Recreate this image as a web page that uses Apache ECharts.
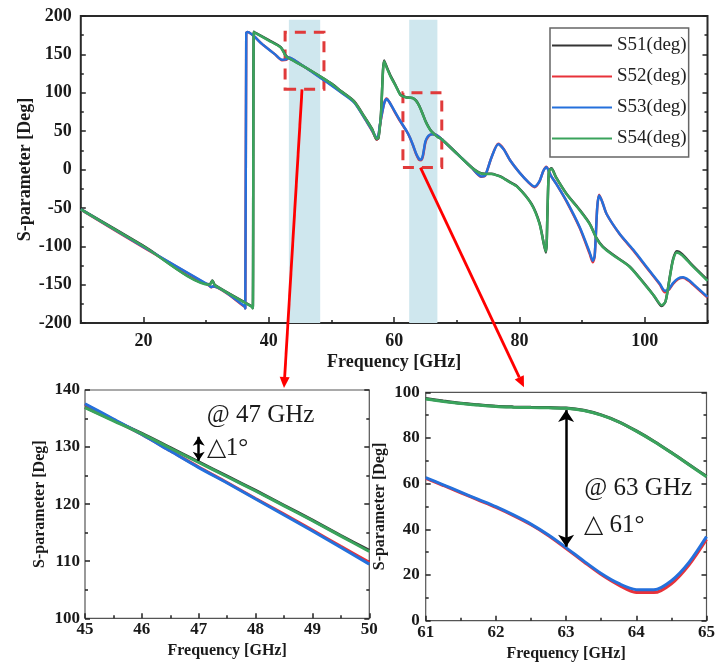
<!DOCTYPE html>
<html><head><meta charset="utf-8">
<script src="https://cdn.jsdelivr.net/npm/echarts@6/dist/echarts.min.js"></script>
<style>html,body{margin:0;padding:0;background:#fff}#c{width:718px;height:665px}</style>
</head><body><div id="c"></div>
<script>
// ---------- data ----------
const seriesNames = ['S51(deg)', 'S52(deg)', 'S53(deg)', 'S54(deg)'];

// main chart, S53 / S52 share a frequency list
const s53Freq = [10,20,30.5,30.8,31.1, 36.1,36.25,36.4,36.6,39, 41,42.1,42.8,43.2,45, 47,48.5,50,51.5,53.6,
  55.2,56.5,57.3,57.8,58.4, 58.8,59.3,60,61,62, 62.5,63,63.5,64,64.3, 64.6,65,65.5,66.1,66.7,
  67.5,70.1,72.3,73.9,74.5, 75.5,76.6,77.5,78.5,80, 81.5,82.4,83.2,83.8,84.3, 85,85.9,87.5,89.6,91.2,
  91.7,92.0,92.4,92.7,93.2, 93.9,96,98.1,100.3,102.4, 103.2,103.8,104.5,105.3,106.1, 107,107.7,110];
const s53Deg = [-52,-101,-151,-153,-152, -178,-181,178,179,163, 150,143,143.5,146,137.5, 126.5,118,109.5,100.6,87.5,
  68,50.6,40,62,86, 92,87,77,63,50, 42,32,21,13.5,13, 19,37,44,46,45,
  40,20,3,-9,-8, 15,33,26,12,-4, -17,-22,-15,-2,3, -8,-19,-41,-75,-108,
  -119,-112,-50,-34,-42, -58,-84,-104,-127,-149, -158,-156,-148,-142,-140.5, -144,-149,-166];
const s52Deg = [-52.5,-101.5,-151.5,-153.5,-152.5, -178.5,-181,178,179,163, 150,142.5,143,145.5,137.4, 126.6,118.3,110,101,88,
  68,50,39,61,86, 92.5,87,76.5,62.3,49.6, 41.8,31.6,20.2,12.4,12, 17.5,35.6,43.5,46,45,
  40,20,3,-9.5,-8.5, 15,33.5,26.5,12,-4, -17.5,-23,-15.5,-2,3.5, -8,-19,-41.5,-76,-110,
  -121,-113,-50,-33,-42, -58,-84.5,-105,-128,-150, -160,-157,-149,-143,-141, -145,-150,-167];

// main chart, S54 / S51 share a frequency list
const s54Freq = [10,20,30.5,30.7,31.0, 31.4,37.3,37.45,37.6,37.8, 40,41.9,42.7,43.2,45, 47,48.5,50,51.5,53.6,
  55.2,56.5,57.2,57.5,57.9, 58.4,58.9,59.5,60.3,61, 61.5,62,62.5,63,63.5, 64,64.5,65,65.5,66,
  67,67.5,70.1,72.3,73.5, 74.5,75.5,76.5,77.1,78.5, 79.7,81.9,83.2,84.2,84.45, 84.7,85.1,85.8,87.5,89.6,
  91.2,92.3,93.3,95,97.6, 100.3,101.5,102.7,103.3,104, 104.5,105.1,106,107.5,110];
const s54Deg = [-52,-100,-150,-149,-145, -151,-179,-181,179,178, 168,159,148,145,136.9, 127.3,119.7,111.7,102,88.5,
  69,52,40,42,72, 141,131,120,108,97, 95,93.8,93.5,93,89.6, 82.8,73.3,63,55,49,
  42,40,20,3,-4, -6,-6,-8,-10,-17, -23,-45,-71,-107,-60, -2,1,-10,-32,-53,
  -71,-90,-101,-112,-127, -153,-165,-177,-172,-140, -118,-108,-112,-125,-145];
const s51Deg = [-51.5,-99.5,-149.5,-148.5,-144.5, -150.5,-178.5,-180.5,179.5,178.5, 168.5,159.5,148.5,145.5,137, 127.4,119.8,111.9,102.3,89,
  69.5,52.5,39,41,73, 142,132,121,108.5,97.3, 95.2,93.9,93.6,93.1,89.7, 83,73.5,63.2,55.3,49.3,
  42.3,40.3,20.3,3.3,-3.7, -5.7,-5.7,-7.7,-9.5,-16.5, -22.5,-44.5,-70,-108,-60, -1.5,1.5,-9.5,-31.5,-52.5,
  -70.5,-89.5,-100.5,-111.5,-126.5, -152.5,-165,-178,-172,-139, -117,-106.5,-110.5,-124,-144];

// zoom inset @47 GHz
const z47Freq = [45,45.5,46,46.5,47,47.5,48,48.5,49,49.5,50];
const z47S51 = [137.0,134.7,132.4,129.9,127.4,124.9,122.4,119.8,117.2,114.5,111.9];
const z47S52 = [137.5,134.8,132.2,129.35,126.5,123.8,121.0,118.25,115.45,112.6,109.8];
const z47S53 = [137.6,134.9,132.2,129.3,126.4,123.7,120.9,118.1,115.3,112.4,109.5];
const z47S54 = [136.9,134.6,132.3,129.8,127.3,124.8,122.3,119.7,117.1,114.4,111.7];

// zoom inset @63 GHz
const z63Freq = [61,61.25,61.5,61.75,62,62.25,62.5,62.75,63,63.25,63.5,63.75,64,64.25,64.5,64.75,65];
const z63S51 = [97.3,96.2,95.2,94.5,93.9,93.6,93.4,93.3,93.1,92.1,90.1,87.1,83.1,78.6,73.6,68.4,63.2];
const z63S52 = [62.3,59.2,56.0,52.8,49.6,46.0,42.0,37.2,31.6,25.8,20.2,15.6,12.4,12.3,16.2,24.4,35.6];
const z63S53 = [62.6,59.5,56.3,53.1,49.9,46.3,42.3,37.5,32.0,26.2,20.7,16.3,13.6,13.5,17.5,25.5,36.8];
const z63S54 = [97.1,96.0,95.1,94.4,93.8,93.5,93.3,93.2,93.0,92.0,90.0,87.0,83.0,78.5,73.5,68.3,63.0];

const mainXLabels = [20, 40, 60, 80, 100];
const bands = [[43.2, 48.2], [62.4, 66.9]];          // highlighted frequency bands (GHz)
const zoomBoxes = [[42.6, 48.8, 104.5, 178.8], [61.4, 67.6, 2.5, 100]]; // [f0,f1,deg0,deg1]
const deltaMarks = [[47, 131.8, 127.6], [63, 92.2, 32.4]];

// ---------- styling ----------
const colors = ['#353535', '#e8323a', '#2470dc', '#3aa35c'];
const SERIF = '"Liberation Serif", "Times New Roman", serif';
const tickLS = {color: '#222', width: 1.5};
const lbl = (size, margin) => ({fontFamily: SERIF, fontWeight: 'bold', color: '#1a1a1a', fontSize: size, margin: margin});
const nameTS = size => ({fontFamily: SERIF, fontWeight: 'bold', color: '#1a1a1a', fontSize: size});
const zip = (a, b) => a.map((v, i) => [v, b[i]]);
const noLine = {show: false, onZero: false};

function yPair(grid, min, max, interval, name, nameGap, lsize, lmargin, nsize) {
  const base = {gridIndex: grid, type: 'value', min, max, interval, axisLine: noLine, splitLine: {show: false},
    axisTick: {inside: true, length: 5, lineStyle: tickLS},
    minorTick: {show: true, splitNumber: 2, length: 3, lineStyle: tickLS}};
  return [
    Object.assign({}, base, {position: 'left', axisLabel: lbl(lsize, lmargin), name, nameLocation: 'middle', nameGap,
      nameMoveOverlap: false, nameTextStyle: nameTS(nsize)}),
    Object.assign({}, base, {position: 'right', axisLabel: {show: false}})
  ];
}
function xInset(grid, min, max, nameGap) {
  return {gridIndex: grid, type: 'value', min, max, interval: 1, position: 'bottom', axisLine: noLine, splitLine: {show: false},
    axisTick: {inside: true, length: 5, lineStyle: tickLS},
    minorTick: {show: true, splitNumber: 2, length: 3, lineStyle: tickLS},
    axisLabel: lbl(17, 3), name: 'Frequency [GHz]', nameLocation: 'middle', nameGap, nameMoveOverlap: false, nameTextStyle: nameTS(16)};
}

const series = [];
const mainData = [zip(s54Freq, s51Deg), zip(s53Freq, s52Deg), zip(s53Freq, s53Deg), zip(s54Freq, s54Deg)];
const z47Data = [z47S51, z47S52, z47S53, z47S54].map(d => zip(z47Freq, d));
const z63Data = [z63S51, z63S52, z63S53, z63S54].map(d => zip(z63Freq, d));
mainData.forEach((d, i) => series.push({type: 'line', name: seriesNames[i], xAxisIndex: 0, yAxisIndex: 0, data: d,
  symbol: 'none', smooth: 0.25, lineStyle: {color: colors[i], width: 2.5}, itemStyle: {color: colors[i]}}));
z47Data.forEach((d, i) => series.push({type: 'line', name: seriesNames[i], xAxisIndex: 2, yAxisIndex: 2, data: d,
  symbol: 'none', smooth: 0.3, lineStyle: {color: colors[i], width: 3}, itemStyle: {color: colors[i]}}));
z63Data.forEach((d, i) => series.push({type: 'line', name: seriesNames[i], xAxisIndex: 3, yAxisIndex: 4, data: d,
  symbol: 'none', smooth: 0.3, lineStyle: {color: colors[i], width: 3}, itemStyle: {color: colors[i]}}));

const areaData = [];
bands.forEach(b => areaData.push([{xAxis: b[0], yAxis: -200, itemStyle: {color: '#cfe7ee'}}, {xAxis: b[1], yAxis: 195}]));
zoomBoxes.forEach(b => areaData.push([{xAxis: b[0], yAxis: b[2], itemStyle: {color: 'rgba(0,0,0,0)', borderColor: '#e03a3a', borderWidth: 3, borderType: [11, 8]}}, {xAxis: b[1], yAxis: b[3]}]));
series[0].markArea = {silent: true, label: {show: false}, data: areaData};

const dm = (m, size) => ({silent: true, symbol: ['arrow', 'arrow'], symbolSize: size, label: {show: false},
  lineStyle: {color: '#000', width: 2.5, type: 'solid'}, emphasis: {disabled: true},
  data: [[{coord: [m[0], m[1]]}, {coord: [m[0], m[2]]}]]});
series[4].markLine = dm(deltaMarks[0], 9);
series[8].markLine = dm(deltaMarks[1], 12);

const mainY = yPair(0, -200, 200, 50, 'S-parameter [Deg]', 46, 18, 9, 18);
const z47Y = yPair(1, 100, 140, 10, 'S-parameter [Deg]', 37, 17, 5, 16);
const z63Y = yPair(2, 0, 100, 20, 'S-parameter [Deg]', 38, 17, 6, 16);

const option = {
  animation: false,
  backgroundColor: '#fff',
  grid: [
    {left: 80.8, right: 10.5, top: 16, bottom: 342, show: true, borderColor: '#2a2a2a', borderWidth: 2},
    {left: 85, right: 348.7, top: 390, bottom: 46.7, show: true, borderColor: '#555', borderWidth: 1.2},
    {left: 425.7, right: 8.7, top: 392.3, bottom: 44.3, show: true, borderColor: '#555', borderWidth: 1.2}
  ],
  legend: {data: seriesNames, orient: 'vertical', left: 550, top: 28, padding: [8, 2, 9, 1], itemWidth: 60, itemHeight: 14, itemGap: 12,
    borderColor: '#666', borderWidth: 1.5, backgroundColor: '#fff', selectedMode: false,
    itemStyle: {opacity: 0},
    textStyle: {fontFamily: SERIF, fontSize: 19, color: '#222', lineHeight: 19}},
  xAxis: [
    {gridIndex: 0, type: 'value', min: 10, max: 110, position: 'bottom', axisLine: noLine, splitLine: {show: false},
      axisTick: {inside: true, length: 6, lineStyle: tickLS, customValues: mainXLabels},
      axisLabel: Object.assign(lbl(18, 9), {customValues: mainXLabels}),
      name: 'Frequency [GHz]', nameLocation: 'middle', nameGap: 30, nameMoveOverlap: false, nameTextStyle: nameTS(18)},
    {gridIndex: 0, type: 'value', min: 10, max: 110, interval: 10, position: 'bottom', axisLine: noLine, splitLine: {show: false},
      axisTick: {inside: true, length: 3, lineStyle: tickLS}, axisLabel: {show: false}},
    xInset(1, 45, 50, 25),
    xInset(2, 61, 65, 25)
  ],
  yAxis: [mainY[0], mainY[1], z47Y[0], z47Y[1], z63Y[0], z63Y[1]],
  series
};

const chart = echarts.init(document.getElementById('c'), null, {renderer: 'canvas'});
chart.setOption(option);

// ---------- annotations positioned through the axes ----------
const P = (si, pt) => chart.convertToPixel({seriesIndex: si}, pt);
const g = [];
function arrow(p0, p1, color, w, hl, hw) {
  const dx = p1[0] - p0[0], dy = p1[1] - p0[1], L = Math.hypot(dx, dy), ux = dx / L, uy = dy / L;
  const b = [p1[0] - ux * hl, p1[1] - uy * hl];
  g.push({type: 'line', silent: true, z: 100, shape: {x1: p0[0], y1: p0[1], x2: b[0], y2: b[1]}, style: {stroke: color, lineWidth: w}});
  g.push({type: 'polygon', silent: true, z: 100, shape: {points: [p1, [b[0] - uy * hw, b[1] + ux * hw], [b[0] + uy * hw, b[1] - ux * hw]]}, style: {fill: color}});
}
const a1s = P(0, [45.3, zoomBoxes[0][2]]), a1e = P(4, [48.5, 140]);
arrow(a1s, [a1e[0], a1e[1] - 2], '#ff0000', 2.8, 11, 5);
const a2s = P(0, [64.2, zoomBoxes[1][2]]), a2e = P(8, [62.4, 100]);
arrow(a2s, [a2e[0], a2e[1] - 5], '#ff0000', 2.8, 11, 5);

function txt(p, s) {
  g.push({type: 'text', silent: true, z: 100, x: p[0], y: p[1],
    style: {text: s, font: '25px ' + SERIF, fill: '#1a1a1a', align: 'left', verticalAlign: 'middle'}});
}
txt(P(4, [47.14, 135.6]), '@ 47 GHz');
txt(P(4, [47.14, 129.8]), '\u25B31\u00B0');
txt(P(8, [63.26, 58.1]), '@ 63 GHz');
txt(P(8, [63.26, 41.9]), '\u25B3 61\u00B0');
chart.setOption({graphic: g});
</script></body></html>
